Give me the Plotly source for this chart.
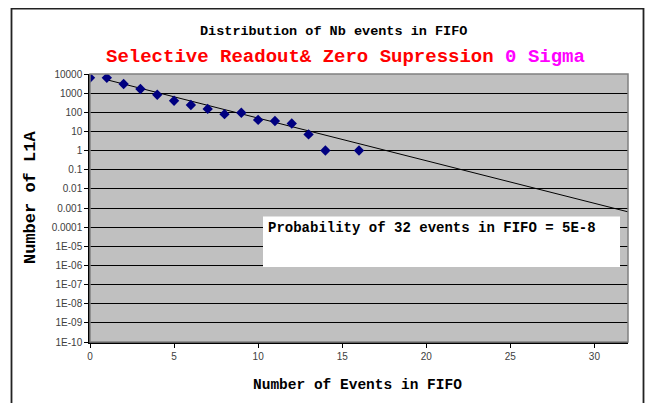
import plotly.graph_objects as go

# ---- data ----
events = [0, 1, 2, 3, 4, 5, 6, 7, 8, 9, 10, 11, 12, 13, 14, 16]
counts = [6300, 6300, 3000, 1650, 830, 400, 240, 150, 80, 95, 40, 35, 26, 7, 1, 1]

trend_x = [1, 32]
trend_y = [5000, 0.00063]

y_tickvals = [1e4, 1e3, 1e2, 1e1, 1, 0.1, 0.01, 0.001, 0.0001,
              1e-5, 1e-6, 1e-7, 1e-8, 1e-9, 1e-10]
y_ticktext = ["10000", "1000", "100", "10", "1", "0.1", "0.01", "0.001", "0.0001",
              "1E-05", "1E-06", "1E-07", "1E-08", "1E-09", "1E-10"]
x_tickvals = [0, 5, 10, 15, 20, 25, 30]

title1 = "Distribution of Nb events in FIFO"
title2_red = "Selective Readout& Zero Supression "
title2_mag = "0 Sigma"
x_title = "Number of Events in FIFO"
y_title = "Number of L1A"
note = "Probability of 32 events in FIFO = 5E-8"

MONO = "Courier New, Liberation Mono, monospace"
SANS = "Liberation Sans, Arial, sans-serif"

# page body has an 8px margin: work in page pixels, shift by OFF
OFF = 8
FW, FH = 653 - OFF, 403 - OFF
# plot area in page pixels: x 90..628, y 74..342
L, R, T, B = 90, 628, 74, 342
W, H = R - L, B - T


def px(x):
    return (x - L) / W


def py(y):
    return (B - y) / H


fig = go.Figure()
fig.add_trace(go.Scatter(x=trend_x, y=trend_y, mode="lines",
                         line=dict(color="black", width=1), hoverinfo="skip",
                         showlegend=False))
fig.add_trace(go.Scatter(x=events, y=counts, mode="markers",
                         marker=dict(symbol="diamond", size=8, color="#000080"),
                         showlegend=False))

shapes = [
    # outer chart frame (bottom edge lies below the page)
    dict(type="rect", xref="paper", yref="paper", x0=px(11.5), x1=px(643.5),
         y0=py(420), y1=py(8.5), line=dict(color="#222222", width=1.8), layer="below"),
    # plot area border
    dict(type="rect", xref="paper", yref="paper", x0=0, x1=1, y0=0, y1=1,
         line=dict(color="#808080", width=1.5), layer="above"),
    # text box
    dict(type="rect", xref="paper", yref="paper", x0=px(263), x1=px(620),
         y0=py(267), y1=py(216.5), fillcolor="white", line=dict(width=0),
         layer="above"),
]

annotations = [
    dict(text=f"<b>{title1}</b>", xref="paper", yref="paper", x=px(333), y=py(31),
         showarrow=False, font=dict(family=MONO, size=13.5, color="black"),
         xanchor="center", yanchor="middle"),
    dict(text=f"<b><span style='color:#FF0000'>{title2_red}</span>"
              f"<span style='color:#FF00FF'>{title2_mag}</span></b>",
         xref="paper", yref="paper", x=px(345), y=py(57),
         showarrow=False, font=dict(family=MONO, size=19, color="#FF0000"),
         xanchor="center", yanchor="middle"),
    dict(text=f"<b>{x_title}</b>", xref="paper", yref="paper", x=px(357), y=py(385),
         showarrow=False, font=dict(family=MONO, size=14.5, color="black"),
         xanchor="center", yanchor="middle"),
    dict(text=f"<b>{y_title}</b>", xref="paper", yref="paper", x=px(30), y=py(198),
         showarrow=False, textangle=-90, font=dict(family=MONO, size=17, color="black"),
         xanchor="center", yanchor="middle"),
    dict(text=f"<b>{note}</b>", xref="paper", yref="paper", x=px(266), y=py(228),
         showarrow=False, font=dict(family=MONO, size=14, color="black"),
         xanchor="left", yanchor="middle"),
]

fig.update_layout(
    width=FW, height=FH,
    margin=dict(l=L - OFF, r=FW - (R - OFF), t=T - OFF, b=FH - (B - OFF), pad=0),
    paper_bgcolor="white", plot_bgcolor="#C0C0C0",
    shapes=shapes, annotations=annotations,
    xaxis=dict(range=[0, 32], tickvals=x_tickvals, showgrid=False, zeroline=False,
               showline=True, linecolor="black", linewidth=1.5,
               ticks="outside", ticklen=4, tickcolor="black",
               tickfont=dict(family=SANS, size=10, color="#404040")),
    yaxis=dict(type="log", range=[-10, 4], tickvals=y_tickvals, ticktext=y_ticktext,
               showgrid=True, gridcolor="black", gridwidth=1.2, zeroline=False,
               showline=True, linecolor="black", linewidth=1.5,
               ticks="outside", ticklen=4, tickcolor="black",
               tickfont=dict(family=SANS, size=10, color="#404040")),
)

fig.write_html("out.html")
